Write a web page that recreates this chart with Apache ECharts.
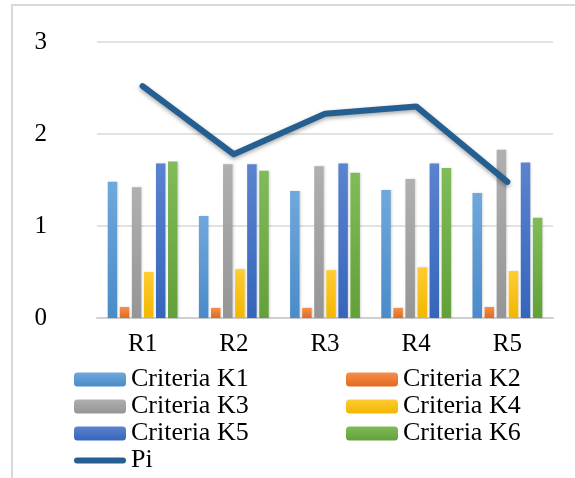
<!DOCTYPE html>
<html>
<head>
<meta charset="utf-8">
<script src="https://cdn.jsdelivr.net/npm/echarts@6/dist/echarts.min.js"></script>
<style>
  html, body { margin: 0; padding: 0; background: #fff; }
  #chart { width: 575px; height: 478px; }
</style>
</head>
<body>
<div id="chart"></div>
<script>
const categories = ['R1', 'R2', 'R3', 'R4', 'R5'];
const k1 = [1.48, 1.11, 1.38, 1.39, 1.36];
const k2 = [0.12, 0.11, 0.11, 0.11, 0.12];
const k3 = [1.42, 1.67, 1.65, 1.51, 1.83];
const k4 = [0.50, 0.53, 0.52, 0.55, 0.51];
const k5 = [1.68, 1.67, 1.68, 1.68, 1.69];
const k6 = [1.70, 1.60, 1.58, 1.63, 1.09];
const pi = [2.52, 1.78, 2.22, 2.30, 1.48];

const serifFont = 'Liberation Serif';

function grad(top, bottom) {
  return new echarts.graphic.LinearGradient(0, 0, 0, 1, [
    { offset: 0, color: top },
    { offset: 1, color: bottom }
  ]);
}

function barSeries(name, data, top, bottom) {
  return {
    name: name,
    type: 'bar',
    data: data,
    barWidth: 9.5,
    barGap: '27%',
    itemStyle: {
      color: grad(top, bottom),
      shadowColor: 'rgba(0,0,0,0.15)',
      shadowBlur: 2,
      shadowOffsetX: 1
    }
  };
}

const legendText = { fontFamily: serifFont, fontSize: 26, lineHeight: 27, color: '#000' };

const chart = echarts.init(document.getElementById('chart'), null, { renderer: 'canvas' });
const option = {
  animation: false,
  textStyle: { fontFamily: serifFont },
  graphic: [{
    type: 'rect',
    shape: { x: 12, y: 5, width: 620, height: 520 },
    style: { fill: 'none', stroke: '#d9d9d9', lineWidth: 2 }
  }],
  grid: { left: 97, right: 22, top: 42, bottom: 160 },
  legend: [
    {
      left: 74, top: 366, orient: 'vertical', padding: 0,
      itemWidth: 52, itemHeight: 14, itemGap: 0,
      textStyle: legendText,
      data: ['Criteria K1', 'Criteria K3', 'Criteria K5',
        { name: 'Pi', icon: 'path://M3,0 H49 A3,3 0 0 1 49,6 H3 A3,3 0 0 1 3,0 Z' }]
    },
    {
      left: 346, top: 366, orient: 'vertical', padding: 0,
      itemWidth: 52, itemHeight: 14, itemGap: 0,
      textStyle: legendText,
      data: ['Criteria K2', 'Criteria K4', 'Criteria K6']
    }
  ],
  xAxis: {
    type: 'category',
    data: categories,
    axisLine: { lineStyle: { color: '#d0d0d0', width: 2 } },
    axisTick: { show: false },
    axisLabel: { fontFamily: serifFont, fontSize: 25, color: '#000', margin: 14 }
  },
  yAxis: {
    type: 'value',
    min: 0, max: 3, interval: 1,
    axisLine: { show: false },
    axisTick: { show: false },
    splitLine: { lineStyle: { color: '#d9d9d9', width: 1.5 } },
    axisLabel: { fontFamily: serifFont, fontSize: 25, color: '#000', margin: 50 }
  },
  series: [
    barSeries('Criteria K1', k1, '#6fa8dc', '#4a8bc9'),
    barSeries('Criteria K2', k2, '#f58f4c', '#e06a1d'),
    barSeries('Criteria K3', k3, '#b0b0b0', '#959595'),
    barSeries('Criteria K4', k4, '#ffcc33', '#f2b700'),
    barSeries('Criteria K5', k5, '#5b83cf', '#3565bb'),
    barSeries('Criteria K6', k6, '#80bb58', '#62a03a'),
    {
      name: 'Pi',
      type: 'line',
      data: pi,
      symbol: 'none',
      lineStyle: {
        color: '#255e91', width: 6, cap: 'round', join: 'round',
        shadowColor: 'rgba(0,0,0,0.35)', shadowBlur: 4, shadowOffsetY: 2
      },
      itemStyle: { color: '#255e91' },
      z: 5
    }
  ]
};
chart.setOption(option);
</script>
</body>
</html>
